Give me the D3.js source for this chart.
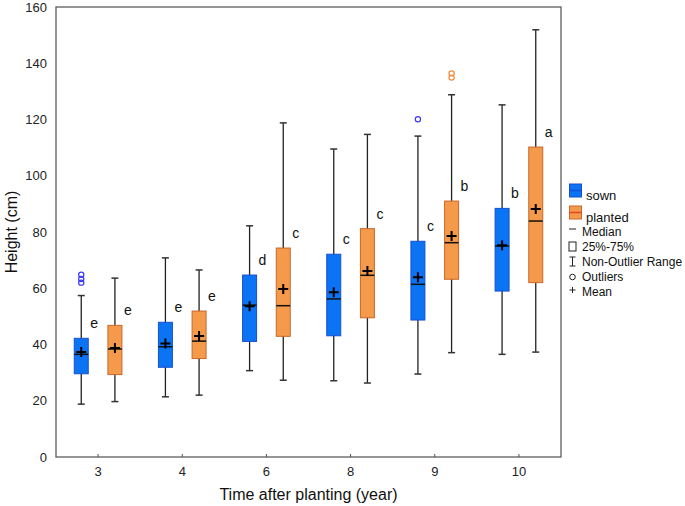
<!DOCTYPE html>
<html><head><meta charset="utf-8">
<script src="https://cdn.jsdelivr.net/npm/d3@7"></script>
<style>body{margin:0;background:#fff}svg{display:block;font-family:"Liberation Sans",Arial,sans-serif}</style>
</head><body><svg id="c" width="685" height="506"></svg>
<script>
const categories = ["3","4","6","8","9","10"];
const yTicks = [0,20,40,60,80,100,120,140,160];

const sownMin     = [18.8, 21.4, 30.7, 27.1, 29.5, 36.5];
const sownQ1      = [29.6, 31.9, 41.1, 43.1, 48.7, 59.0];
const sownMedian  = [36.5, 39.2, 54.0, 56.2, 61.4, 75.0];
const sownQ3      = [42.2, 47.9, 64.7, 72.1, 76.7, 88.4];
const sownMax     = [57.4, 70.8, 82.2, 109.5, 114.1, 125.2];
const sownMean    = [37.3, 40.4, 53.6, 58.6, 63.9, 75.3];
const sownOutliers = [[64.8, 63.3, 62.0], [], [], [], [120.1], []];
const sownLetters = ["e","e","d","c","c","b"];

const plantedMin    = [19.7, 22.0, 27.3, 26.3, 37.1, 37.3];
const plantedQ1     = [29.3, 35.0, 42.9, 49.5, 63.2, 62.0];
const plantedMedian = [38.4, 41.2, 53.8, 64.6, 76.2, 83.9];
const plantedQ3     = [46.8, 51.9, 74.3, 81.2, 91.0, 110.2];
const plantedMax    = [63.6, 66.5, 118.8, 114.7, 128.8, 151.9];
const plantedMean   = [38.8, 43.0, 59.7, 66.1, 78.6, 88.2];
const plantedOutliers = [[], [], [], [], [136.4, 134.9], []];
const plantedLetters = ["e","e","c","c","b","a"];

const seriesNames = ["sown","planted"];
const legendItems = ["Median","25%-75%","Non-Outlier Range","Outliers","Mean"];

const svg = d3.select("#c");
const L = 56, R = 561, T = 7, B = 457;
const x = d3.scaleBand().domain(categories).range([L, R]).paddingInner(0).paddingOuter(0);
const y = d3.scaleLinear().domain([0,160]).range([B, T]);
const bw = x.bandwidth();
const off = bw * 0.2, boxW = 14, capW = 7;

const styles = {
  sown:    {fill:"#0a74f5", stroke:"#1a4fd0", out:"#3a3af5"},
  planted: {fill:"#f5994a", stroke:"#c9682a", out:"#f08a35"}
};

function build(min,q1,med,q3,max,mean,outs,letters){
  return categories.map((c,i)=>({c,min:min[i],q1:q1[i],med:med[i],q3:q3[i],max:max[i],mean:mean[i],outs:outs[i],letter:letters[i]}));
}
const series = {
  sown: build(sownMin,sownQ1,sownMedian,sownQ3,sownMax,sownMean,sownOutliers,sownLetters),
  planted: build(plantedMin,plantedQ1,plantedMedian,plantedQ3,plantedMax,plantedMean,plantedOutliers,plantedLetters)
};

// frame
svg.append("rect").attr("x",L).attr("y",T).attr("width",R-L).attr("height",B-T)
  .attr("fill","none").attr("stroke","#505050").attr("stroke-width",1.2);

// x axis
const xa = svg.append("g").attr("transform",`translate(0,${B})`)
  .call(d3.axisBottom(x).tickSize(-3).tickSizeOuter(0).tickPadding(10));
xa.select(".domain").remove();
xa.selectAll(".tick line").attr("stroke","#505050");
xa.selectAll("text").attr("font-size",13).attr("fill","#222").attr("font-family","Liberation Sans, Arial");

// y axis
const ya = svg.append("g").attr("transform",`translate(${L},0)`)
  .call(d3.axisLeft(y).tickValues(yTicks).tickSize(0).tickPadding(9));
ya.select(".domain").remove();
ya.selectAll("text").attr("font-size",13).attr("fill","#222").attr("font-family","Liberation Sans, Arial");

// titles
svg.append("text").attr("x",(L+R)/2).attr("y",500).attr("text-anchor","middle")
  .attr("font-size",16).attr("fill","#111").text("Time after planting (year)");
svg.append("text").attr("transform",`translate(17,${(T+B)/2}) rotate(-90)`).attr("text-anchor","middle")
  .attr("font-size",16).attr("fill","#111").text("Height (cm)");

// boxes
seriesNames.forEach((s,si)=>{
  const st = styles[s];
  const dx = si===0 ? -off : off;
  const g = svg.append("g");
  series[s].forEach(d=>{
    const cx = x(d.c) + bw/2 + dx;
    g.append("line").attr("x1",cx).attr("x2",cx).attr("y1",y(d.max)).attr("y2",y(d.min))
      .attr("stroke","#222").attr("stroke-width",1.3);
    [d.max,d.min].forEach(v=>g.append("line").attr("x1",cx-capW/2).attr("x2",cx+capW/2)
      .attr("y1",y(v)).attr("y2",y(v)).attr("stroke","#333").attr("stroke-width",1.5));
    g.append("rect").attr("x",cx-boxW/2).attr("y",y(d.q3)).attr("width",boxW).attr("height",y(d.q1)-y(d.q3))
      .attr("fill",st.fill).attr("stroke",st.stroke).attr("stroke-width",1);
    g.append("line").attr("x1",cx-boxW/2).attr("x2",cx+boxW/2).attr("y1",y(d.med)).attr("y2",y(d.med))
      .attr("stroke","#111").attr("stroke-width",1.5);
    const my = y(d.mean);
    g.append("path").attr("d",`M${cx-5},${my}H${cx+5}M${cx},${my-5}V${my+5}`)
      .attr("stroke","#000").attr("stroke-width",2);
    d.outs.forEach(v=>g.append("circle").attr("cx",cx).attr("cy",y(v)).attr("r",2.6)
      .attr("fill","none").attr("stroke",st.out).attr("stroke-width",1.2));
    g.append("text").attr("x",cx+boxW/2+2).attr("y",y(d.q3)-10)
      .attr("font-size",14).attr("fill","#111").text(d.letter);
  });
});

// legend
const lg = svg.append("g");
seriesNames.forEach((s,i)=>{
  const st = styles[s];
  const y0 = 184 + i*22;
  lg.append("rect").attr("x",569.5).attr("y",y0).attr("width",12).attr("height",13)
    .attr("fill",st.fill).attr("stroke",st.stroke);
  lg.append("line").attr("x1",569.5).attr("x2",581.5).attr("y1",y0+6.5).attr("y2",y0+6.5)
    .attr("stroke", i===0 ? "#1a4fd0" : "#e8432a").attr("stroke-width",1.5);
  lg.append("text").attr("x",586).attr("y",y0+16).attr("font-size",13).attr("fill","#111").text(s);
});
const ly = [232, 247, 262, 277, 292];
legendItems.forEach((t,i)=>{
  lg.append("text").attr("x",582).attr("y",ly[i]+4).attr("font-size",12).attr("fill","#111").text(t);
  const cy = ly[i], cx = 572.5;
  if(i===0) lg.append("line").attr("x1",cx-3.5).attr("x2",cx+3.5).attr("y1",cy-3).attr("y2",cy-3).attr("stroke","#222");
  if(i===1) lg.append("rect").attr("x",cx-3.5).attr("y",cy-5).attr("width",7).attr("height",9).attr("fill","none").attr("stroke","#222");
  if(i===2) lg.append("path").attr("d",`M${cx-3},${cy-5}H${cx+3}M${cx},${cy-5}V${cy+4}M${cx-3},${cy+4}H${cx+3}`).attr("fill","none").attr("stroke","#222");
  if(i===3) lg.append("circle").attr("cx",cx).attr("cy",cy).attr("r",2.8).attr("fill","none").attr("stroke","#222");
  if(i===4) lg.append("path").attr("d",`M${cx-3},${cy-2}H${cx+3}M${cx},${cy-5}V${cy+1}`).attr("fill","none").attr("stroke","#222");
});
</script></body></html>
